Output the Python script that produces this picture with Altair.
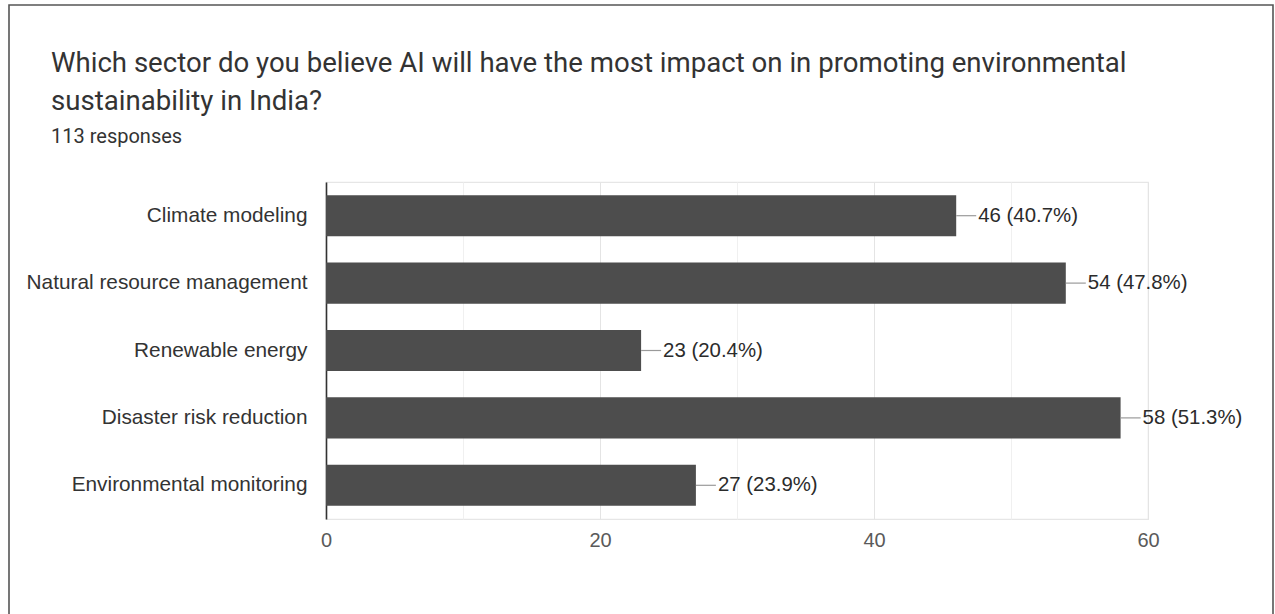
import altair as alt
import pandas as pd

categories = ["Climate modeling", "Natural resource management", "Renewable energy",
              "Disaster risk reduction", "Environmental monitoring"]
counts = [46, 54, 23, 58, 27]
pct_labels = ["46 (40.7%)", "54 (47.8%)", "23 (20.4%)", "58 (51.3%)", "27 (23.9%)"]
x_ticks = [0, 10, 20, 30, 40, 50, 60]
title_lines = ["Which sector do you believe AI will have the most impact on in promoting environmental",
               "sustainability in India?"]
subtitle = "113 responses"

df = pd.DataFrame({"cat": categories, "n": counts, "lab": pct_labels})

W, H = 822, 337
LEFT, TOP = 326, 182
AX = "Liberation Sans"

y_enc = alt.Y("cat:N", sort=categories, title=None,
              scale=alt.Scale(paddingInner=0.39, paddingOuter=0.195),
              axis=alt.Axis(domain=True, domainColor="#333333", domainWidth=1.6,
                            ticks=False, grid=False, labelFont=AX, labelFontSize=20.8,
                            labelColor="#333333", labelPadding=19, labelLimit=500))
x_enc = alt.X("n:Q", title=None, scale=alt.Scale(domain=[0, 60], nice=False),
              axis=alt.Axis(values=x_ticks, domain=False, ticks=False, labelFlush=False,
                            labelExpr="datum.value % 20 === 0 ? datum.label : ''",
                            labelFont=AX, labelFontSize=20, labelColor="#5a5a5a",
                            labelPadding=11,
                            gridColor={"condition": {"test": "datum.value % 20 === 0", "value": "#e4e4e4"},
                                       "value": "#f0f0f0"}))

base = alt.Chart(df)
bars = base.mark_bar(color="#4d4d4d").encode(x=x_enc, y=y_enc)
leaders = base.mark_rule(color="#9a9a9a", strokeWidth=1.2, x2Offset=20).encode(
    x="n:Q", x2="n:Q", y=alt.Y("cat:N", sort=categories))
labels = base.mark_text(align="left", baseline="middle", dx=22, font=AX, fontSize=20.4,
                        color="#2b2b2b").encode(
    x="n:Q", y=alt.Y("cat:N", sort=categories), text="lab:N")

tdf = pd.DataFrame({"t": title_lines + [subtitle],
                    "yy": [72 - TOP, 110 - TOP, 143 - TOP],
                    "fs": [27.6, 27.6, 20]})
titles = alt.Chart(tdf).mark_text(align="left", baseline="alphabetic", font="Roboto",
                                  color="#333333").encode(
    x=alt.value(51 - LEFT), y=alt.Y("yy:Q", scale=None), text="t:N",
    size=alt.Size("fs:Q", scale=None, legend=None))

border = alt.Chart(pd.DataFrame({"a": [0]})).mark_rect(
    fill=None, stroke="#555555", strokeWidth=1.6).encode(
    x=alt.value(9 - LEFT), x2=alt.value(1273 - LEFT),
    y=alt.value(5 - TOP), y2=alt.value(640 - TOP))

chart = alt.layer(border, bars, leaders, labels, titles).properties(
    width=W, height=H,
    autosize=alt.AutoSizeParams(type="none"),
    padding={"left": LEFT, "top": TOP, "right": 1275 - LEFT - W, "bottom": 614 - TOP - H},
    background="white"
).configure_view(stroke="#e6e6e6", strokeWidth=1.2)

chart.save("out.html", embed_options={"renderer": "svg", "actions": False})
